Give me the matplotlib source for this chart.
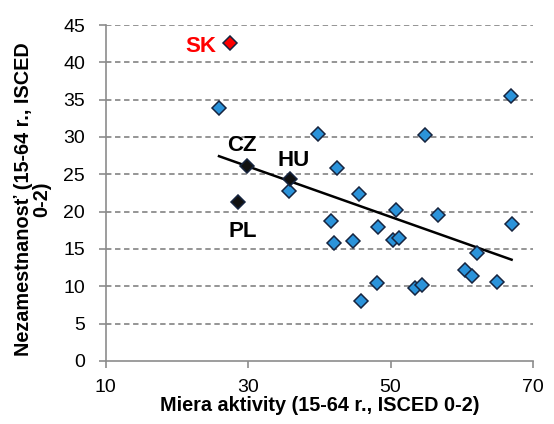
import matplotlib.pyplot as plt
import numpy as np

# Miera aktivity (x) a nezamestnanosť (y), 15-64 r., ISCED 0-2
other_x = [25.9, 39.8, 35.7, 42.5, 54.8, 66.9, 45.5, 41.6, 42.1, 50.7, 56.6, 67.0,
           48.3, 44.7, 50.3, 51.2, 62.2, 60.5, 61.4, 48.1, 53.4, 54.4, 65.0, 45.8]
other_y = [33.9, 30.4, 22.8, 25.8, 30.2, 35.5, 22.3, 18.8, 15.8, 20.2, 19.6, 18.4,
           17.9, 16.1, 16.2, 16.5, 14.5, 12.2, 11.4, 10.4, 9.8, 10.1, 10.6, 8.0]

v4_names = ["CZ", "HU", "PL"]
v4_x = [29.8, 35.9, 28.5]
v4_y = [26.1, 24.3, 21.3]
v4_label_pos = [(29.1, 28.8), (36.4, 26.9), (29.2, 17.3)]

sk_x = [27.5]
sk_y = [42.6]
sk_label_pos = (23.3, 42.1)

plt.rcParams['font.family'] = ['Liberation Sans', 'DejaVu Sans']

fig = plt.figure(figsize=(5.54, 4.24), dpi=100)
ax = fig.add_axes([0.191, 0.149, 0.771, 0.792])

ax.set_xlim(10, 70)
ax.set_ylim(0, 45)
ax.set_xticks([10, 30, 50, 70])
ax.set_yticks(range(0, 46, 5))
ax.tick_params(direction='out', length=5, width=1.2, color='#8c8c8c', labelsize=14)
ax.tick_params(axis='x', pad=8)
ax.tick_params(axis='y', pad=10)

for side in ['top', 'right']:
    ax.spines[side].set_visible(False)
for side in ['left', 'bottom']:
    ax.spines[side].set_color('#8c8c8c')
    ax.spines[side].set_linewidth(1.2)

# horizontálne mriežky
for yv in range(5, 46, 5):
    ax.axhline(yv, color='#8c8c8c', lw=1.3, ls=(0, (3, 2)), zorder=1)

# lineárny trend cez všetky body
all_x = np.array(other_x + v4_x + sk_x)
all_y = np.array(other_y + v4_y + sk_y)
k, q = np.polyfit(all_x, all_y, 1)
xs = np.array([all_x.min(), all_x.max()])
ax.plot(xs, k * xs + q, color='black', lw=1.8, zorder=3)

edge = '#16243f'
ax.plot(other_x, other_y, 'D', ms=7.5, mfc='#2b93da', mec=edge, mew=1.1, zorder=4)
ax.plot(v4_x, v4_y, 'D', ms=7.5, mfc='#111111', mec=edge, mew=1.1, zorder=4)
ax.plot(sk_x, sk_y, 'D', ms=7.5, mfc='#ff0000', mec=edge, mew=1.1, zorder=4)

for name, (lx, ly) in zip(v4_names, v4_label_pos):
    ax.text(lx, ly, name, color='black', fontsize=16, fontweight='bold',
            ha='center', va='center', zorder=5)
ax.text(sk_label_pos[0], sk_label_pos[1], "SK", color='#ff0000', fontsize=16,
        fontweight='bold', ha='center', va='center', zorder=5)

ax.set_xlabel("Miera aktivity (15-64 r., ISCED 0-2)", fontsize=14.3,
              fontweight='bold', labelpad=0)
fig.text(0.058, 0.53, "Nezamestnanosť (15-64 r., ISCED\n0-2)", rotation=90,
         ha='center', va='center', multialignment='center', fontsize=14.3,
         fontweight='bold', linespacing=0.95)

plt.savefig('out.png', dpi=100)
